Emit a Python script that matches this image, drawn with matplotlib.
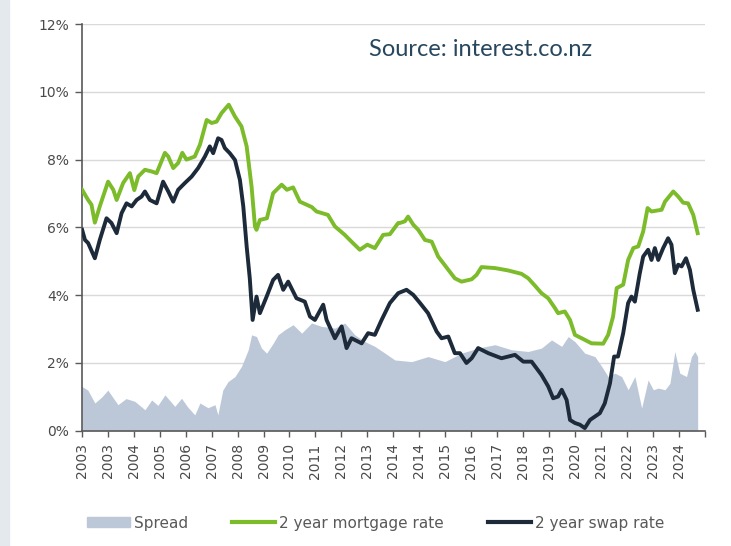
import matplotlib.pyplot as plt
from matplotlib.patches import Rectangle, Patch
from matplotlib.lines import Line2D
from matplotlib.ticker import FuncFormatter

# x positions are in tick units (one unit = one axis label step)
tick_labels = ['2003', '2003', '2004', '2005', '2006', '2007', '2008', '2009',
               '2010', '2011', '2012', '2013', '2014', '2014', '2015', '2016',
               '2017', '2018', '2019', '2020', '2021', '2022', '2023', '2024']

mort_x = [0.01, 0.24, 0.37, 0.50, 0.69, 1.01, 1.21, 1.34, 1.59, 1.85, 2.02, 2.17,
          2.43, 2.69, 2.88, 3.20, 3.33, 3.52, 3.71, 3.87, 4.03, 4.35, 4.55, 4.81,
          5.00, 5.19, 5.38, 5.66, 5.90, 6.15, 6.35, 6.54, 6.67, 6.73, 6.86, 7.13,
          7.37, 7.70, 7.90, 8.14, 8.40, 8.86, 9.04, 9.48, 9.75, 10.13, 10.39, 10.71,
          11.00, 11.29, 11.61, 11.87, 12.19, 12.25, 12.45, 12.57, 12.77, 12.96, 13.22,
          13.48, 13.73, 14.12, 14.37, 14.63, 15.02, 15.21, 15.40, 15.92, 16.43, 16.94,
          17.20, 17.46, 17.71, 17.97, 18.23, 18.35, 18.61, 18.81, 19.00, 19.26, 19.64,
          20.09, 20.28, 20.47, 20.61, 20.86, 21.05, 21.25, 21.44, 21.63, 21.80, 21.95,
          22.34, 22.47, 22.79, 22.98, 23.17, 23.36, 23.56, 23.73]
mort_y = [7.11, 6.81, 6.67, 6.14, 6.62, 7.35, 7.11, 6.81, 7.31, 7.60, 7.10, 7.50,
          7.70, 7.65, 7.60, 8.20, 8.09, 7.75, 7.90, 8.20, 8.00, 8.09, 8.44, 9.17,
          9.08, 9.12, 9.37, 9.62, 9.27, 8.98, 8.39, 7.20, 6.03, 5.93, 6.22, 6.27,
          7.01, 7.26, 7.11, 7.18, 6.76, 6.60, 6.47, 6.37, 6.03, 5.78, 5.58, 5.34,
          5.49, 5.39, 5.78, 5.80, 6.13, 6.13, 6.18, 6.32, 6.08, 5.93, 5.63,
          5.58, 5.14, 4.75, 4.50, 4.40, 4.47, 4.60, 4.83, 4.80, 4.73, 4.63,
          4.50, 4.28, 4.06, 3.91, 3.62, 3.47, 3.52, 3.27, 2.83, 2.73, 2.58,
          2.57, 2.83, 3.37, 4.21, 4.31, 5.04, 5.39, 5.44, 5.88, 6.57, 6.47,
          6.52, 6.76, 7.06, 6.91, 6.73, 6.71, 6.37, 5.83]

swap_x = [0.01, 0.12, 0.24, 0.50, 0.69, 0.95, 1.14, 1.34, 1.53, 1.72, 1.92, 2.11,
          2.30, 2.43, 2.62, 2.88, 3.13, 3.33, 3.52, 3.71, 3.97, 4.23, 4.48, 4.74,
          4.93, 5.06, 5.25, 5.38, 5.51, 5.70, 5.90, 6.09, 6.22, 6.35, 6.47, 6.58,
          6.73, 6.86, 7.12, 7.37, 7.56, 7.76, 7.95, 8.27, 8.59, 8.79, 8.98, 9.30,
          9.43, 9.75, 10.01, 10.20, 10.39, 10.78, 11.03, 11.29, 11.55, 11.87, 12.19,
          12.51, 12.77, 13.03, 13.34, 13.67, 13.86, 14.12, 14.37, 14.57, 14.82, 15.02,
          15.27, 15.66, 16.17, 16.69, 17.01, 17.33, 17.71, 17.97, 18.16, 18.35, 18.49,
          18.68, 18.81, 19.00, 19.19, 19.38, 19.58, 19.77, 19.96, 20.15, 20.35, 20.51,
          20.66, 20.86, 21.05, 21.18, 21.31, 21.50, 21.63, 21.82, 21.95, 22.08, 22.21,
          22.40, 22.59, 22.72, 22.85, 22.98, 23.11, 23.28, 23.43, 23.56, 23.73]
swap_y = [5.93, 5.63, 5.54, 5.09, 5.63, 6.27, 6.13, 5.83, 6.42, 6.71, 6.62, 6.81,
          6.91, 7.06, 6.81, 6.71, 7.35, 7.06, 6.76, 7.11, 7.31, 7.50, 7.75, 8.09,
          8.39, 8.19, 8.63, 8.58, 8.34, 8.19, 7.99, 7.40, 6.62, 5.44, 4.50, 3.27,
          3.96, 3.47, 3.96, 4.45, 4.60, 4.16, 4.40, 3.91, 3.81, 3.37, 3.27, 3.72,
          3.27, 2.73, 3.08, 2.44, 2.73, 2.58, 2.88, 2.83, 3.27, 3.77, 4.06,
          4.16, 4.01, 3.77, 3.47, 2.93, 2.73, 2.78, 2.29, 2.29, 2.00, 2.14,
          2.44, 2.29, 2.14, 2.24, 2.04, 2.04, 1.65, 1.31, 0.96, 1.01, 1.21,
          0.91, 0.32, 0.23, 0.18, 0.08, 0.32, 0.42, 0.52, 0.81, 1.40, 2.19,
          2.19, 2.88, 3.77, 3.96, 3.81, 4.65, 5.14, 5.34, 5.04, 5.39, 5.04,
          5.39, 5.68, 5.49, 4.65, 4.90, 4.85, 5.09, 4.75, 4.16, 3.57]

spread_x = [0.00, 0.23, 0.50, 0.77, 1.00, 1.39, 1.70, 2.04, 2.43, 2.69, 2.93, 3.20,
            3.58, 3.84, 4.08, 4.35, 4.55, 4.86, 5.13, 5.24, 5.43, 5.63, 5.90, 6.15,
            6.41, 6.54, 6.73, 6.92, 7.12, 7.37, 7.56, 7.82, 8.14, 8.47, 8.85, 9.24,
            9.75, 10.13, 10.52, 10.91, 11.29, 11.68, 12.06, 12.71, 13.34, 13.99, 14.63,
            15.27, 15.92, 16.56, 17.20, 17.71, 18.10, 18.49, 18.74, 19.00, 19.38, 19.77,
            20.03, 20.28, 20.54, 20.80, 21.05, 21.31, 21.57, 21.82, 22.02, 22.21, 22.47,
            22.66, 22.85, 23.04, 23.30, 23.49, 23.62, 23.73]
spread_y = [1.31, 1.20, 0.82, 1.00, 1.20, 0.77, 0.95, 0.87, 0.62, 0.91, 0.75, 1.06,
            0.72, 0.96, 0.70, 0.47, 0.82, 0.68, 0.77, 0.47, 1.20, 1.45, 1.60, 1.90,
            2.39, 2.83, 2.78, 2.44, 2.29, 2.58, 2.83, 2.98, 3.13, 2.88, 3.18, 3.08,
            3.03, 3.18, 2.83, 2.63, 2.49, 2.29, 2.09, 2.04, 2.19, 2.04, 2.29,
            2.44, 2.54, 2.39, 2.34, 2.44, 2.68, 2.49, 2.78, 2.63, 2.29, 2.19,
            1.90, 1.60, 1.70, 1.60, 1.21, 1.60, 0.67, 1.50, 1.21, 1.26, 1.21,
            1.40, 2.34, 1.70, 1.60, 2.19, 2.34, 2.19]

green = '#7cbb2a'
navy = '#1d2a3a'
spread_col = '#bcc8d8'
grey = '#595959'

fig = plt.figure(figsize=(7.31, 5.46), dpi=100)
fig.patches.append(Rectangle((0, 0), 9 / 731, 1, transform=fig.transFigure,
                             color='#e4e9ee', zorder=0))
ax = fig.add_axes([0.112, 0.211, 0.852, 0.745])

ax.fill_between(spread_x, 0, spread_y, color=spread_col, lw=0, zorder=1)
ax.plot(mort_x, mort_y, color=green, lw=2.8, solid_joinstyle='round', zorder=3)
ax.plot(swap_x, swap_y, color=navy, lw=2.8, solid_joinstyle='round', zorder=4)

ax.set_xlim(0, 24)
ax.set_ylim(0, 12)
ax.set_yticks(range(0, 13, 2))
ax.yaxis.set_major_formatter(FuncFormatter(lambda v, p: '%d%%' % v))
ax.set_xticks(range(0, 25))
ax.set_xticklabels(tick_labels + [''], rotation=90)
ax.grid(axis='y', color='#d9d9d9', lw=1)
ax.set_axisbelow(True)

for s in ['top', 'right']:
    ax.spines[s].set_visible(False)
for s in ['left', 'bottom']:
    ax.spines[s].set_color(grey)
    ax.spines[s].set_linewidth(1.2)
ax.tick_params(axis='both', colors=grey, labelcolor='#4a4a4a', labelsize=10,
               length=4, width=1, direction='out')
ax.tick_params(axis='y', length=5, pad=4)
ax.tick_params(axis='x', pad=5)

ax.text(0.64, 0.937, 'Source: interest.co.nz', transform=ax.transAxes,
        ha='center', va='center', fontsize=17, color='#27475e', family='Lato')

handles = [Patch(color=spread_col),
           Line2D([], [], color=green, lw=3),
           Line2D([], [], color=navy, lw=3)]
leg = fig.legend(handles, ['Spread', '2 year mortgage rate', '2 year swap rate'],
                 loc='center', bbox_to_anchor=(0.514, 0.042), ncol=3, frameon=False,
                 handlelength=2.8, handleheight=0.6, handletextpad=0.25,
                 columnspacing=2.9, prop={'size': 11})
for t in leg.get_texts():
    t.set_color(grey)

fig.savefig('out.png', dpi=100)
